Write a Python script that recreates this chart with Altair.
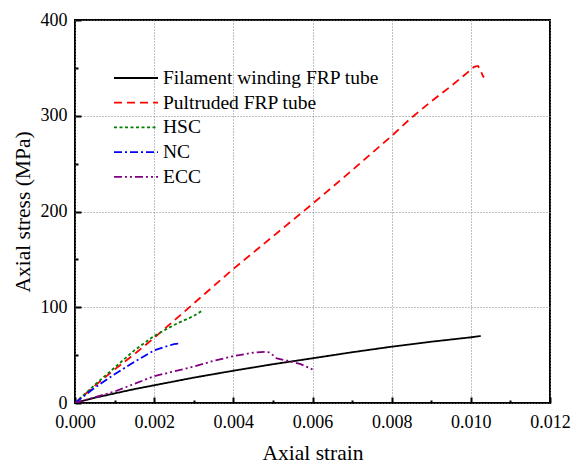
import altair as alt
import pandas as pd

series_names = ["Filament winding FRP tube", "Pultruded FRP tube", "HSC", "NC", "ECC"]
series_colors = ["#000000", "#FF0000", "#008000", "#0000FF", "#800080"]
series_dashes = [[1, 0], [8, 5], [3, 2.5], [8, 3, 2, 3], [8, 3, 2, 3, 2, 3]]

fw_strain = [0, 0.0005, 0.001, 0.0015, 0.002, 0.003, 0.004, 0.005, 0.006, 0.007, 0.008, 0.009, 0.010, 0.01025]
fw_stress = [0, 5.5, 10, 14.5, 18.5, 26.5, 33.7, 40.5, 46.7, 53, 58.8, 64, 68.6, 70]

pu_strain = [0, 0.0005, 0.001, 0.0015, 0.002, 0.003, 0.004, 0.005, 0.006, 0.007, 0.008, 0.0085,
             0.009, 0.0095, 0.010, 0.01008, 0.01018, 0.01025, 0.0103, 0.01033]
pu_stress = [0, 18, 35, 51, 68, 104, 140, 174, 208, 243, 279, 298, 315, 331, 348, 351, 352, 347, 342, 340]

hsc_strain = [0, 0.0005, 0.001, 0.0015, 0.002, 0.0025, 0.003, 0.0032]
hsc_stress = [0, 19, 37, 55, 70, 81.5, 91, 96]

nc_strain = [0, 0.0005, 0.001, 0.0015, 0.002, 0.0023, 0.0025, 0.0026, 0.00265]
nc_stress = [0, 16, 30, 43, 55, 59, 61.5, 62, 59.5]

ecc_strain = [0, 0.0005, 0.001, 0.0015, 0.002, 0.0025, 0.003, 0.0035, 0.004, 0.0045, 0.0048,
              0.0049, 0.005, 0.0051, 0.0055, 0.0057, 0.0059, 0.006]
ecc_stress = [0, 6, 12, 20, 28, 33, 38, 44, 49, 52.5, 53.5, 53, 50, 46.5, 43, 40.5, 37, 35]

x_major = [0, 0.002, 0.004, 0.006, 0.008, 0.010, 0.012]
x_minor = [0.001, 0.003, 0.005, 0.007, 0.009, 0.011]
y_major = [0, 100, 200, 300, 400]
y_minor = [50, 150, 250, 350]

W, H = 475, 383
SERIF = "Liberation Serif"

rows = []
for name, xs, ys in zip(series_names,
                        [fw_strain, pu_strain, hsc_strain, nc_strain, ecc_strain],
                        [fw_stress, pu_stress, hsc_stress, nc_stress, ecc_stress]):
    for i, (a, b) in enumerate(zip(xs, ys)):
        rows.append({"series": name, "strain": a, "stress": b, "idx": i})
df = pd.DataFrame(rows)

sx = alt.Scale(domain=[0, 0.012], nice=False, zero=False)
sy = alt.Scale(domain=[0, 400], nice=False, zero=False)

legend = alt.Legend(title=None, orient="none", legendX=38, legendY=48, symbolType="stroke",
                    symbolSize=1936, symbolStrokeWidth=1.8, labelFontSize=19.5,
                    labelFont=SERIF, labelColor="black", labelOffset=4, labelLimit=0,
                    clipHeight=20, rowPadding=4.7, padding=0)

lines = alt.Chart(df).mark_line(strokeWidth=1.8, clip=True).encode(
    x=alt.X("strain:Q", scale=sx,
            axis=alt.Axis(values=x_major, format=".3f", title="Axial strain", grid=True,
                          ticks=False, domain=False, labelPadding=10, titlePadding=11,
                          labelFlush=False, labelOverlap=False)),
    y=alt.Y("stress:Q", scale=sy,
            axis=alt.Axis(values=y_major, format="d", title="Axial stress (MPa)", grid=True,
                          ticks=False, domain=False, labelPadding=8, titlePadding=6,
                          labelFlush=False, labelOverlap=False)),
    color=alt.Color("series:N", scale=alt.Scale(domain=series_names, range=series_colors), legend=legend),
    strokeDash=alt.StrokeDash("series:N", scale=alt.Scale(domain=series_names, range=series_dashes), legend=legend),
    order="idx:Q",
)


def tick_layer(xv, yv, size):
    return alt.Chart(df).mark_point(opacity=0).encode(
        x=alt.X("strain:Q", scale=sx,
                axis=alt.Axis(orient="top", offset=-H, values=xv, labels=False, domain=False,
                              grid=False, ticks=True, tickSize=size, tickWidth=2,
                              tickColor="black", title=None)),
        y=alt.Y("stress:Q", scale=sy,
                axis=alt.Axis(orient="right", offset=-W, values=yv, labels=False, domain=False,
                              grid=False, ticks=True, tickSize=size, tickWidth=2,
                              tickColor="black", title=None)),
    )


chart = alt.layer(lines, tick_layer(x_major, y_major, 6), tick_layer(x_minor, y_minor, 3)).resolve_axis(
    x="independent", y="independent"
).properties(
    width=W, height=H,
    autosize=alt.AutoSizeParams(type="none"),
    padding={"left": 75, "top": 20, "right": 23, "bottom": 61},
).configure(
    font=SERIF, background="white"
).configure_axis(
    labelFontSize=18, titleFontSize=21.5, labelColor="black", titleColor="black",
    titleFontWeight="normal", labelFont=SERIF, titleFont=SERIF,
    gridColor="#808080", gridDash=[1, 2], gridWidth=1, gridOpacity=1,
).configure_legend(
    labelFont=SERIF, labelFontSize=19.5, labelColor="black", labelLimit=0
).configure_view(stroke="black", strokeWidth=2)

chart.save("out.html", embed_options={"renderer": "svg", "actions": False})
